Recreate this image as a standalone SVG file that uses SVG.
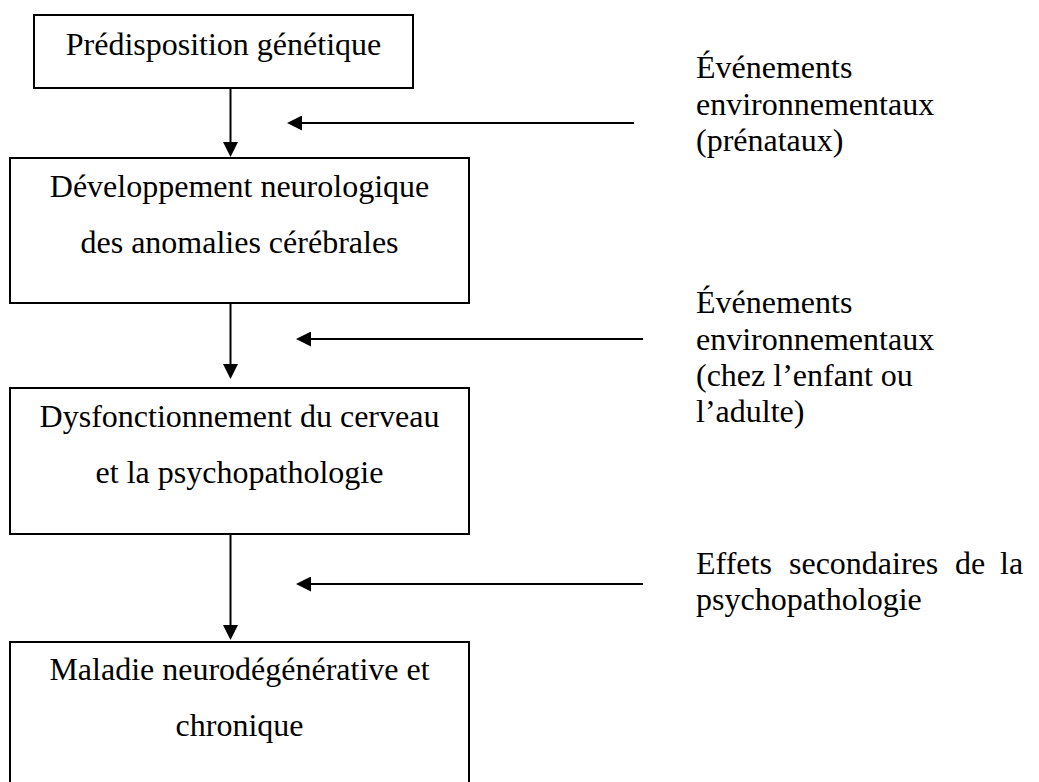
<svg xmlns="http://www.w3.org/2000/svg" width="1039" height="782" viewBox="0 0 1039 782">
  <style>
    .box { fill: #ffffff; stroke: #000000; stroke-width: 2; }
    .t { font-family: "Liberation Serif", "Times New Roman", serif; font-size: 32px; fill: #000000; }
    .c { text-anchor: middle; }
    .conn { stroke: #000000; stroke-width: 2; fill: none; marker-end: url(#arrow); }
  </style>
  <defs>
    <marker id="arrow" viewBox="0 0 15 15" markerWidth="15" markerHeight="15" refX="5" refY="7.5" orient="auto" markerUnits="userSpaceOnUse">
      <path d="M0,0 L15,7.5 L0,15 z" fill="#000000"/>
    </marker>
  </defs>
  <rect width="1039" height="782" fill="#ffffff"/>

  <g id="connectors">
    <line class="conn" x1="230.5" y1="88" x2="230.5" y2="147"/>
    <line class="conn" x1="230.5" y1="303" x2="230.5" y2="369"/>
    <line class="conn" x1="230.5" y1="534" x2="230.5" y2="630"/>
    <line class="conn" x1="634" y1="123" x2="297" y2="123"/>
    <line class="conn" x1="643" y1="339" x2="306" y2="339"/>
    <line class="conn" x1="643" y1="584" x2="306" y2="584"/>
  </g>

  <g id="node-predisposition">
    <rect class="box" x="34" y="15" width="379" height="73"/>
    <text class="t c" x="223.5" y="55">Prédisposition génétique</text>
  </g>

  <g id="node-developpement">
    <rect class="box" x="10" y="158" width="459" height="145"/>
    <text class="t c" x="239.5" y="197">Développement neurologique</text>
    <text class="t c" x="239.5" y="253">des anomalies cérébrales</text>
  </g>

  <g id="node-dysfonctionnement">
    <rect class="box" x="10" y="388" width="459" height="146"/>
    <text class="t c" x="239.5" y="427">Dysfonctionnement du cerveau</text>
    <text class="t c" x="239.5" y="483">et la psychopathologie</text>
  </g>

  <g id="node-maladie">
    <rect class="box" x="10" y="642" width="459" height="150"/>
    <text class="t c" x="239.5" y="680">Maladie neurodégénérative et</text>
    <text class="t c" x="239.5" y="736">chronique</text>
  </g>

  <g id="label-prenataux">
    <text class="t" x="696" y="78">Événements</text>
    <text class="t" x="696" y="115">environnementaux</text>
    <text class="t" x="696" y="151">(prénataux)</text>
  </g>

  <g id="label-enfant-adulte">
    <text class="t" x="696" y="313">Événements</text>
    <text class="t" x="696" y="350">environnementaux</text>
    <text class="t" x="696" y="386">(chez l’enfant ou</text>
    <text class="t" x="696" y="422">l’adulte)</text>
  </g>

  <g id="label-effets">
    <text class="t" y="574"><tspan x="696">Effets</tspan><tspan x="789">secondaires</tspan><tspan x="955">de</tspan><tspan x="1000">la</tspan></text>
    <text class="t" x="696" y="610">psychopathologie</text>
  </g>
</svg>
